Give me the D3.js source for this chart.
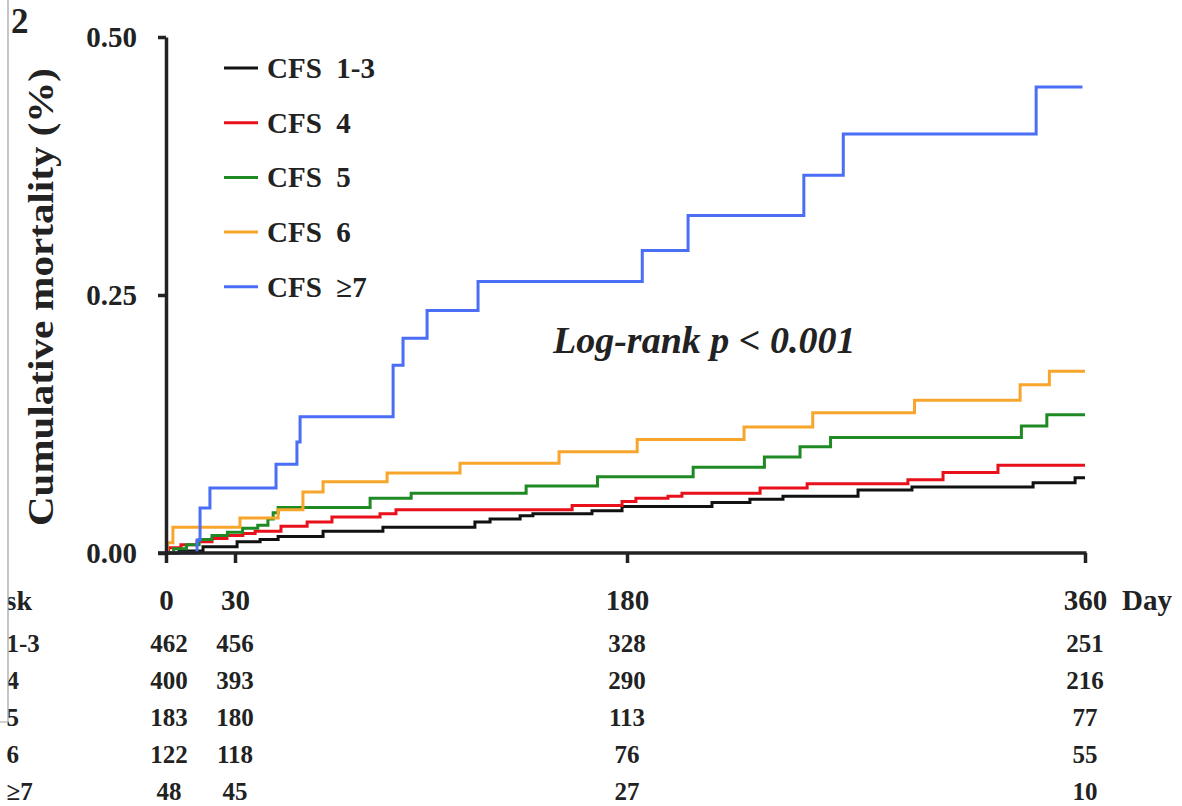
<!DOCTYPE html>
<html>
<head>
<meta charset="utf-8">
<script src="https://cdn.jsdelivr.net/npm/d3@7"></script>
<style>
  body { margin: 0; background: #fff; }
  svg { display: block; }
  text { font-family: "Liberation Serif", "Times New Roman", serif; font-weight: bold; fill: #222; }
</style>
</head>
<body>
<div id="chart"></div>
<script>
// data (day, cumulative mortality)
const groups = ["CFS 1-3", "CFS 4", "CFS 5", "CFS 6", "CFS \u22657"];
const colors = ["#111111", "#e8101a", "#1f8a24", "#f7a52b", "#4a6ef5"];

const daysCFS13 = [0,5.7,16.1,30.8,39.6,46.5,63.7,86.6,121.8,127.6,139.1,144,166.6,178.1,213.4,228.3,241.3,270.8,292,339.6,356.1,360];
const valsCFS13 = [0,0.002,0.006,0.011,0.013,0.016,0.021,0.025,0.030,0.033,0.036,0.038,0.041,0.045,0.049,0.052,0.055,0.061,0.064,0.068,0.073,0.073];

const daysCFS4 = [0,1.1,6.5,13.5,20,26.5,33,37.7,47.6,57.6,67.1,85.5,91.6,159,178.1,183.5,196.1,201.6,232.3,250.8,290.4,304.2,325.8,360];
const valsCFS4 = [0,0.005,0.008,0.011,0.014,0.017,0.019,0.021,0.026,0.030,0.035,0.038,0.042,0.046,0.050,0.053,0.055,0.058,0.063,0.067,0.071,0.078,0.085,0.085];

const daysCFS5 = [0,3.3,8.9,14.4,20,26.7,32.9,38.7,42.6,44.6,46.5,81.7,97.4,141.4,168.7,206,234,248,260,335,345,360];
const valsCFS5 = [0,0.004,0.008,0.013,0.017,0.020,0.024,0.027,0.033,0.039,0.044,0.053,0.058,0.065,0.074,0.083,0.093,0.103,0.112,0.123,0.134,0.134];

const daysCFS6 = [0,0.6,3,31.9,46.5,56,63.7,88.2,116.1,154,184,226,253,293,334.5,346,360];
const valsCFS6 = [0,0.010,0.025,0.034,0.042,0.059,0.069,0.0775,0.087,0.098,0.110,0.122,0.136,0.148,0.163,0.176,0.176];

const daysCFS7 = [0,13.5,14.8,19.1,45.7,53.7,54.9,90.5,94.3,103.5,123,186,204,249.5,265,340.8,359];
const valsCFS7 = [0,0.0126,0.0436,0.063,0.086,0.1076,0.132,0.182,0.208,0.235,0.263,0.293,0.327,0.366,0.406,0.4516,0.4516];

const xTicks = [0, 30, 180, 360];
const yTicks = [0, 0.25, 0.5];

// number at risk at 0, 30, 180, 360 days
const riskCFS13 = [462, 456, 328, 251];
const riskCFS4 = [400, 393, 290, 216];
const riskCFS5 = [183, 180, 113, 77];
const riskCFS6 = [122, 118, 76, 55];
const riskCFS7 = [48, 45, 27, 10];

const series = [
  {days: daysCFS13, vals: valsCFS13, risk: riskCFS13},
  {days: daysCFS4, vals: valsCFS4, risk: riskCFS4},
  {days: daysCFS5, vals: valsCFS5, risk: riskCFS5},
  {days: daysCFS6, vals: valsCFS6, risk: riskCFS6},
  {days: daysCFS7, vals: valsCFS7, risk: riskCFS7}
];

const svgWidth = 1182, svgHeight = 806;
const svg = d3.select("#chart").append("svg")
  .attr("width", svgWidth)
  .attr("height", svgHeight);

// the figure's day axis is not quite even, so pin it at each tick
const x = d3.scaleLinear().domain(xTicks).range([166, 235, 627, 1085]);
const y = d3.scaleLinear().domain([0, 0.5]).range([553, 37]);

// panel number
svg.append("text")
  .attr("x", 11).attr("y", 33)
  .attr("font-size", 35)
  .text("2");

// curves
const line = d3.line()
  .x(d => x(d[0]))
  .y(d => y(d[1]))
  .curve(d3.curveStepAfter);

svg.append("g").selectAll("path")
  .data(series)
  .join("path")
  .attr("d", s => line(s.days.map((d, i) => [d, s.vals[i]])))
  .attr("fill", "none")
  .attr("stroke", (s, i) => colors[i])
  .attr("stroke-width", 3);

// y axis
const yAxis = svg.append("g")
  .attr("transform", `translate(${x(0)},0)`)
  .call(d3.axisLeft(y).tickValues(yTicks).tickSize(8).tickSizeOuter(0)
    .tickPadding(21).tickFormat(d3.format(".2f")));
yAxis.select(".domain").attr("stroke", "#222").attr("stroke-width", 3.5);
yAxis.selectAll(".tick line").attr("stroke", "#222").attr("stroke-width", 3.5);
yAxis.selectAll(".tick text")
  .attr("font-size", 29)
  .attr("fill", "#222");

// x axis
const xAxis = svg.append("g")
  .attr("transform", `translate(0,${y(0)})`)
  .call(d3.axisBottom(x).tickValues(xTicks).tickSize(10).tickSizeOuter(0).tickPadding(26));
xAxis.select(".domain").remove();
xAxis.append("line")
  .attr("x1", x(0) - 8).attr("x2", x(360) + 1.5)
  .attr("stroke", "#222").attr("stroke-width", 3.5);
xAxis.selectAll(".tick line").attr("stroke", "#222").attr("stroke-width", 3.5);
xAxis.selectAll(".tick text")
  .attr("font-size", 29)
  .attr("fill", "#222");

svg.append("text")
  .attr("x", 1122).attr("y", 610)
  .attr("font-size", 29)
  .text("Day");

// y label
svg.append("text")
  .attr("transform", "translate(53,297) rotate(-90)")
  .attr("text-anchor", "middle")
  .attr("font-size", 35)
  .attr("textLength", 458)
  .attr("lengthAdjust", "spacingAndGlyphs")
  .text("Cumulative mortality (%)");

// legend
const legend = svg.append("g").selectAll("g")
  .data(groups)
  .join("g")
  .attr("transform", (d, i) => `translate(224,${68 + i * 54.7})`);
legend.append("line")
  .attr("x1", 0).attr("x2", 34)
  .attr("stroke", (d, i) => colors[i])
  .attr("stroke-width", 3);
legend.append("text")
  .attr("x", 43).attr("y", 10)
  .attr("font-size", 29)
  .text(d => d.replace(" ", "\u2002"));

// log-rank annotation
svg.append("text")
  .attr("x", 553).attr("y", 353)
  .attr("font-size", 38)
  .attr("font-style", "italic")
  .text("Log-rank p < 0.001");

// number-at-risk table
svg.append("text")
  .attr("x", 32).attr("y", 610)
  .attr("text-anchor", "end")
  .attr("font-size", 28)
  .text("No. at risk");

const rowY = [652, 689, 726, 763, 800];
const rows = svg.append("g").selectAll("g")
  .data(series)
  .join("g")
  .attr("transform", (s, i) => `translate(0,${rowY[i]})`);
rows.append("text")
  .attr("x", -47)
  .attr("font-size", 25)
  .text((s, i) => groups[i]);
rows.selectAll("text.n")
  .data(s => s.risk)
  .join("text")
  .attr("class", "n")
  .attr("x", (d, j) => x(xTicks[j]) + (j === 0 ? 3 : 0))
  .attr("text-anchor", "middle")
  .attr("font-size", 25)
  .text(d => d);

// edge of the cropped figure box: hides what lies left of it
svg.append("rect")
  .attr("x", 0).attr("y", 0)
  .attr("width", 8).attr("height", 722)
  .attr("fill", "#fff");
svg.append("path")
  .attr("d", "M8,0V722H0")
  .attr("fill", "none")
  .attr("stroke", "#a0a0a0")
  .attr("stroke-width", 1.2);
</script>
</body>
</html>
